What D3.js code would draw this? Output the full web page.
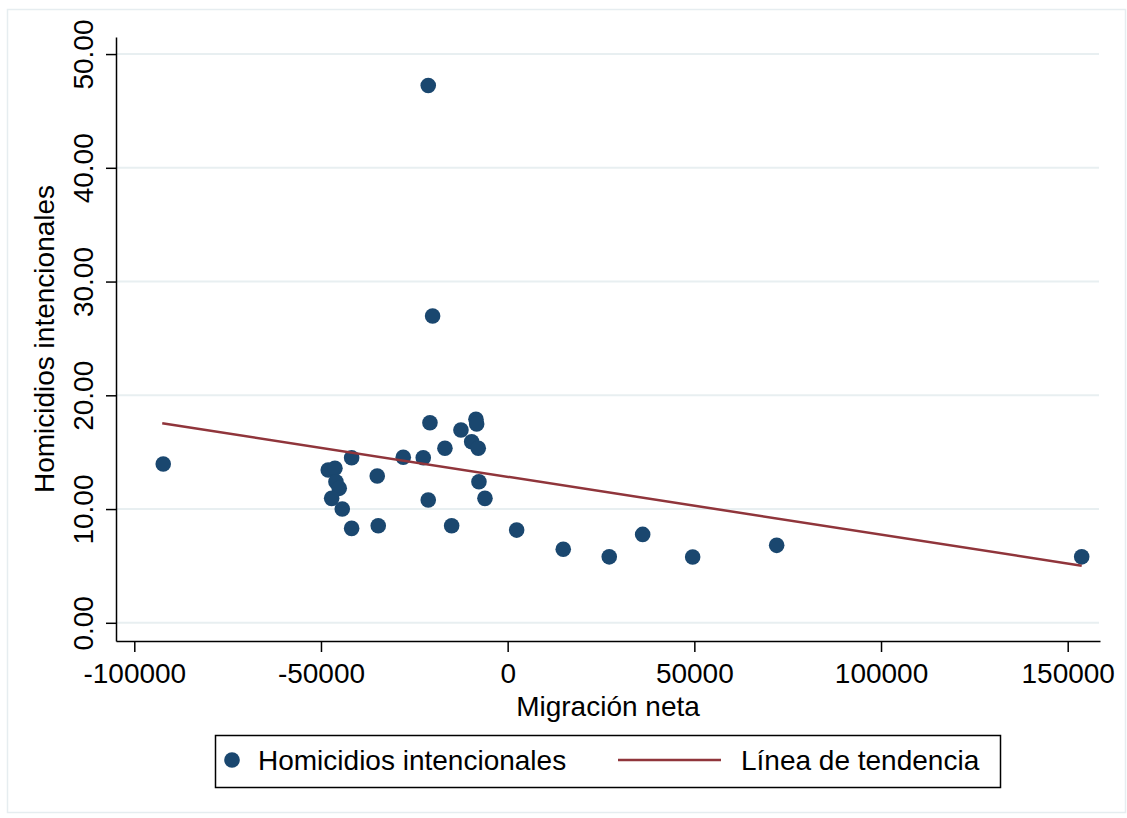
<!DOCTYPE html>
<html><head><meta charset="utf-8">
<script src="https://cdn.jsdelivr.net/npm/d3@7/dist/d3.min.js"></script>
<style>body{margin:0;background:#fff}svg{display:block}text{font-family:"Liberation Sans",Arial,sans-serif;fill:#000}</style>
</head><body>
<svg id="chart" width="1127" height="818"></svg>
<script>
// Data
const migracion = [-92250,-21270,-20100,-20810,-48050,-46260,-41790,-45990,-45110,-47140,-44300,-41790,-34930,-34660,-27960,-22610,-21270,-16800,-15000,-12510,-9640,-8490,-8300,-7880,-7690,-6080,2410,14890,27210,36160,49550,72050,153750];
const homicidios = [13.96,47.23,26.97,17.59,13.43,13.58,14.51,12.40,11.82,10.94,10.00,8.30,12.90,8.53,14.55,14.51,10.79,15.34,8.53,16.95,15.92,17.89,17.48,15.34,12.40,10.94,8.15,6.46,5.80,7.77,5.78,6.81,5.80];
const trendX = [-92520, 153750];
const trendY = [17.54, 5.02];
const xTicks = [-100000,-50000,0,50000,100000,150000];
const yTicks = [0,10,20,30,40,50];
const xTitle = "Migración neta";
const yTitle = "Homicidios intencionales";
const legendLabels = ["Homicidios intencionales","Línea de tendencia"];

const navy = "#1a476f", maroon = "#90353b", grid = "#e8eff1";
const svg = d3.select("#chart");
const FS = 28;

// outer frame
svg.append("rect").attr("x",7.5).attr("y",9.5).attr("width",1118).attr("height",803)
  .attr("fill","none").attr("stroke","#e6edf0").attr("stroke-width",1.5);

const x = d3.scaleLinear().domain([-104900,158650]).range([116,1100]);
const y = d3.scaleLinear().domain([-1.6,51.5]).range([641,37]);

// gridlines
svg.append("g").selectAll("line").data(yTicks).join("line")
  .attr("x1",117).attr("x2",1099).attr("y1",d=>y(d)).attr("y2",d=>y(d))
  .attr("stroke",grid).attr("stroke-width",2);

// y axis
const yAxis = svg.append("g").attr("transform","translate(116,0)")
  .call(d3.axisLeft(y).tickValues(yTicks).tickSize(10).tickSizeOuter(0).tickFormat(d3.format(".2f")));
yAxis.select(".domain").attr("stroke","#000").attr("stroke-width",1.5);
yAxis.selectAll(".tick line").attr("stroke","#000").attr("stroke-width",1.5);
yAxis.selectAll(".tick text").attr("font-size",FS).attr("font-family","Liberation Sans, Arial, sans-serif")
  .attr("text-anchor","middle").attr("x",0).attr("dy",0)
  .attr("transform","translate(-23.5,0) rotate(-90)");

// x axis
const xAxis = svg.append("g").attr("transform","translate(0,641)")
  .call(d3.axisBottom(x).tickValues(xTicks).tickSize(11).tickSizeOuter(0).tickFormat(d3.format("d")));
xAxis.select(".domain").attr("stroke","#000").attr("stroke-width",1.5);
xAxis.selectAll(".tick line").attr("stroke","#000").attr("stroke-width",1.5);
xAxis.selectAll(".tick text").attr("font-size",FS).attr("font-family","Liberation Sans, Arial, sans-serif")
  .attr("y",42).attr("dy",0).text(d=>d<0?"-"+Math.abs(d):String(d));

// titles
svg.append("text").attr("x",608).attr("y",716).attr("text-anchor","middle").attr("font-size",FS).text(xTitle);
svg.append("text").attr("transform","translate(54,339) rotate(-90)").attr("text-anchor","middle").attr("font-size",FS).text(yTitle);

// points
svg.append("g").selectAll("circle").data(migracion.map((m,i)=>[m,homicidios[i]])).join("circle")
  .attr("cx",d=>x(d[0])).attr("cy",d=>y(d[1])).attr("r",7.8).attr("fill",navy);

// trend line
svg.append("path").datum(trendX.map((v,i)=>[v,trendY[i]]))
  .attr("d",d3.line().x(d=>x(d[0])).y(d=>y(d[1])))
  .attr("fill","none").attr("stroke",maroon).attr("stroke-width",2.5);

// legend
const lg = svg.append("g");
lg.append("rect").attr("x",215.5).attr("y",735.5).attr("width",785).attr("height",52)
  .attr("fill","#fff").attr("stroke","#000").attr("stroke-width",1.5);
lg.append("circle").attr("cx",232).attr("cy",760).attr("r",7.8).attr("fill",navy);
lg.append("text").attr("x",258).attr("y",770).attr("font-size",FS).text(legendLabels[0]);
lg.append("line").attr("x1",618).attr("x2",721).attr("y1",760).attr("y2",760).attr("stroke",maroon).attr("stroke-width",2.5);
lg.append("text").attr("x",741).attr("y",770).attr("font-size",FS).text(legendLabels[1]);
</script>
</body></html>
